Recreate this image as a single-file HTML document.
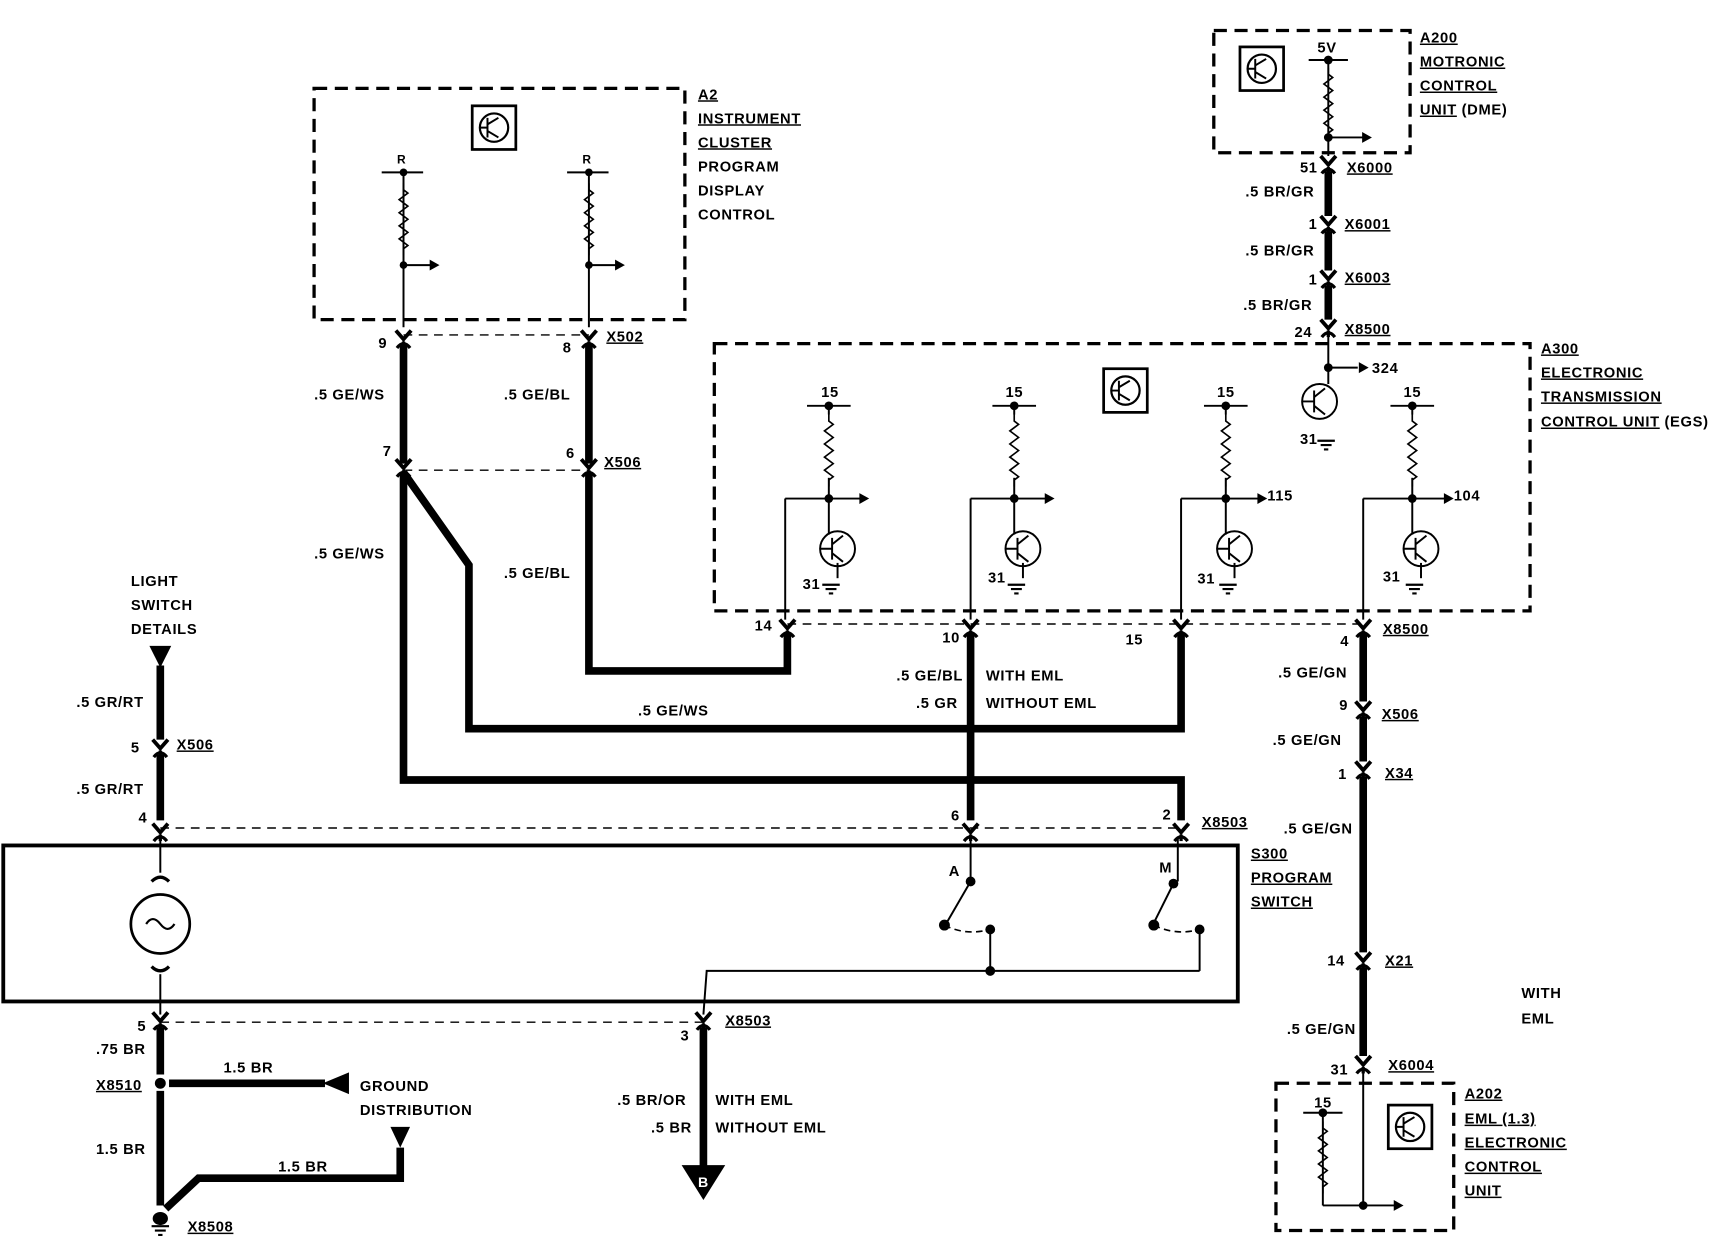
<!DOCTYPE html>
<html><head><meta charset="utf-8"><style>
html,body{margin:0;padding:0;background:#fff;}
svg{display:block;}
text{font-family:"Liberation Sans",sans-serif;font-weight:bold;font-size:13.5px;fill:#000;letter-spacing:0.6px;}
.u{text-decoration:underline;}
</style></head><body>
<svg width="1710" height="1248" viewBox="0 0 1568 1144" preserveAspectRatio="none" xmlns="http://www.w3.org/2000/svg">
<defs>
<g id="c"><path d="M-7,-7 L0,1 L7,-7" stroke="#000" stroke-width="3.5" fill="none"/><path d="M-6,9 Q0,1 6,9" stroke="#000" stroke-width="3" fill="none"/><line x1="0" y1="3" x2="0" y2="9" stroke="#000" stroke-width="3"/></g>
<path id="z" d="M0,0 l0,6 l4,3 l-8,6 l8,6 l-8,6 l8,6 l-8,6 l8,6 l-8,6 l8,6 l-4,3 l0,6" stroke="#000" stroke-width="1.5" fill="none"/>
<g id="icon"><rect x="0" y="0" width="40" height="40" fill="none" stroke="#000" stroke-width="2.5"/><circle cx="20" cy="20" r="13" fill="none" stroke="#000" stroke-width="2"/><path d="M14,11 V29 M14,17 L24,11 M14,23 L24,29 M7,20 H14" stroke="#000" stroke-width="1.8" fill="none"/></g>
<g id="gnd"><path d="M-8,0 H8 M-5,4 H5 M-2,8 H2" stroke="#000" stroke-width="2"/></g>
<g id="tr"><circle cx="0" cy="0" r="16" fill="none" stroke="#000" stroke-width="1.8"/><path d="M-5,-10 V10 M-5,-4 L5,-12 M-5,4 L5,12 M-16,0 H-5" stroke="#000" stroke-width="1.8" fill="none"/></g>
</defs>
<g fill="none" stroke="#000">
<!-- A2 box -->
<rect x="288" y="81" width="340" height="212" stroke-width="3" stroke-dasharray="12,7"/>
<!-- A300 -->
<rect x="655" y="315" width="748" height="245" stroke-width="3" stroke-dasharray="12,7"/>
<!-- A200 -->
<rect x="1113" y="28" width="180" height="112" stroke-width="3" stroke-dasharray="12,7"/>
<!-- A202 -->
<rect x="1170" y="993" width="163" height="135" stroke-width="3" stroke-dasharray="12,7"/>
<!-- S300 -->
<rect x="3" y="775" width="1132" height="143" stroke-width="3.5"/>
<!-- dashed connector lines -->
<g stroke-width="1.3" stroke-dasharray="8,6">
<line x1="370" y1="307" x2="540" y2="307"/><line x1="370" y1="431" x2="540" y2="431"/>
<line x1="722" y1="572" x2="1250" y2="572"/><line x1="147" y1="759" x2="1083" y2="759"/>
<line x1="147" y1="937" x2="645" y2="937"/>
</g>
<!-- thick wires -->
<g stroke-width="7" stroke-linejoin="miter">
<line x1="370" y1="315" x2="370" y2="425"/><line x1="540" y1="315" x2="540" y2="425"/>
<polyline points="370,433 430,518 430,668 1083,668 1083,580"/>
<polyline points="540,433 540,615 722,615 722,580"/>
<polyline points="370,433 370,715 1083,715 1083,752"/>
<line x1="890" y1="580" x2="890" y2="752"/>
<line x1="1218" y1="157" x2="1218" y2="198"/><line x1="1218" y1="212" x2="1218" y2="248"/><line x1="1218" y1="262" x2="1218" y2="293"/>
<line x1="1250" y1="580" x2="1250" y2="643"/><line x1="1250" y1="657" x2="1250" y2="698"/><line x1="1250" y1="712" x2="1250" y2="873"/><line x1="1250" y1="887" x2="1250" y2="968"/>
<line x1="147" y1="610" x2="147" y2="678"/><line x1="147" y1="692" x2="147" y2="752"/>
<line x1="147" y1="942" x2="147" y2="985"/><line x1="147" y1="1000" x2="147" y2="1105"/>
<line x1="155" y1="993" x2="298" y2="993"/>
<polyline points="152,1108 182,1080 367,1080 367,1052"/>
<line x1="645" y1="942" x2="645" y2="1070"/>
</g>
<!-- thin wires -->
<g stroke-width="1.8">
<line x1="370" y1="158" x2="370" y2="300"/><line x1="540" y1="158" x2="540" y2="300"/>
<line x1="350" y1="158" x2="388" y2="158"/><line x1="520" y1="158" x2="558" y2="158"/>
<line x1="370" y1="243" x2="398" y2="243"/><line x1="540" y1="243" x2="568" y2="243"/>
<line x1="1218" y1="55" x2="1218" y2="143"/><line x1="1200" y1="55" x2="1236" y2="55"/><line x1="1218" y1="126" x2="1252" y2="126"/>
<line x1="1218" y1="308" x2="1218" y2="352"/><line x1="1218" y1="337" x2="1245" y2="337"/>
<line x1="1250" y1="982" x2="1250" y2="1105"/><line x1="1213" y1="1020" x2="1213" y2="1105"/><line x1="1213" y1="1105" x2="1280" y2="1105"/>
<line x1="1195" y1="1020" x2="1231" y2="1020"/>
<line x1="147" y1="768" x2="147" y2="800"/><line x1="147" y1="893" x2="147" y2="930"/>
<line x1="890" y1="768" x2="890" y2="808"/><line x1="1080" y1="768" x2="1080" y2="808"/>
<line x1="890" y1="808" x2="868" y2="846"/><line x1="1076" y1="810" x2="1058" y2="846"/>
<line x1="908" y1="852" x2="908" y2="890"/><line x1="1100" y1="852" x2="1100" y2="890"/>
<polyline points="645,930 648,890 1100,890"/>
</g>
<g stroke-width="1.5" stroke-dasharray="6,4"><path d="M866,848 Q885,858 908,852"/><path d="M1058,848 Q1078,858 1100,852"/></g>
<!-- lamp -->
<circle cx="147" cy="847" r="27" stroke-width="2.5"/>
<path d="M134,847 Q140,838 147,847 Q154,856 160,847" stroke-width="2"/>
<path d="M139,808 Q147,800 155,808 M139,886 Q147,894 155,886" stroke-width="3"/>
</g>
<!-- A300 columns -->
<g stroke="#000" stroke-width="1.8" fill="none">
<g transform="translate(760,0)"><line x1="-20" y1="372" x2="20" y2="372"/><line x1="0" y1="372" x2="0" y2="380"/><line x1="0" y1="438" x2="0" y2="490"/><line x1="-40" y1="457" x2="30" y2="457"/><line x1="-40" y1="457" x2="-40" y2="568"/><line x1="8" y1="516" x2="8" y2="530"/></g>
<g transform="translate(930,0)"><line x1="-20" y1="372" x2="20" y2="372"/><line x1="0" y1="372" x2="0" y2="380"/><line x1="0" y1="438" x2="0" y2="490"/><line x1="-40" y1="457" x2="30" y2="457"/><line x1="-40" y1="457" x2="-40" y2="568"/><line x1="8" y1="516" x2="8" y2="530"/></g>
<g transform="translate(1124,0)"><line x1="-20" y1="372" x2="20" y2="372"/><line x1="0" y1="372" x2="0" y2="380"/><line x1="0" y1="438" x2="0" y2="490"/><line x1="-41" y1="457" x2="30" y2="457"/><line x1="-41" y1="457" x2="-41" y2="568"/><line x1="8" y1="516" x2="8" y2="530"/></g>
<g transform="translate(1295,0)"><line x1="-20" y1="372" x2="20" y2="372"/><line x1="0" y1="372" x2="0" y2="380"/><line x1="0" y1="438" x2="0" y2="490"/><line x1="-45" y1="457" x2="30" y2="457"/><line x1="-45" y1="457" x2="-45" y2="568"/><line x1="8" y1="516" x2="8" y2="530"/></g>
</g>
<use href="#z" x="760" y="380"/><use href="#z" x="930" y="380"/><use href="#z" x="1124" y="380"/><use href="#z" x="1295" y="380"/>
<use href="#z" x="370" y="168"/><use href="#z" x="540" y="168"/><use href="#z" x="1218" y="62"/><use href="#z" x="1213" y="1028"/>
<use href="#tr" x="768" y="503"/><use href="#tr" x="938" y="503"/><use href="#tr" x="1132" y="503"/><use href="#tr" x="1303" y="503"/><use href="#tr" x="1210" y="368"/>
<use href="#gnd" x="762" y="536"/><use href="#gnd" x="932" y="536"/><use href="#gnd" x="1126" y="536"/><use href="#gnd" x="1297" y="536"/><use href="#gnd" x="1216" y="404"/>
<use href="#icon" x="433" y="97"/><use href="#icon" x="1012" y="338"/><use href="#icon" x="1137" y="43"/><use href="#icon" x="1273" y="1013"/>
<!-- dots -->
<g fill="#000">
<circle cx="370" cy="158" r="3.5"/><circle cx="540" cy="158" r="3.5"/><circle cx="370" cy="243" r="3.5"/><circle cx="540" cy="243" r="3.5"/>
<circle cx="760" cy="372" r="4"/><circle cx="930" cy="372" r="4"/><circle cx="1124" cy="372" r="4"/><circle cx="1295" cy="372" r="4"/>
<circle cx="760" cy="457" r="4"/><circle cx="930" cy="457" r="4"/><circle cx="1124" cy="457" r="4"/><circle cx="1295" cy="457" r="4"/>
<circle cx="1218" cy="55" r="4"/><circle cx="1218" cy="126" r="4"/><circle cx="1218" cy="337" r="4"/>
<circle cx="1213" cy="1020" r="4"/><circle cx="1250" cy="1105" r="4"/>
<circle cx="890" cy="808" r="4.5"/><circle cx="866" cy="848" r="5"/><circle cx="908" cy="852" r="4.5"/><circle cx="908" cy="890" r="4.5"/>
<circle cx="1076" cy="810" r="4.5"/><circle cx="1058" cy="848" r="5"/><circle cx="1100" cy="852" r="4.5"/>
<circle cx="147" cy="993" r="5"/>
<!-- arrowheads -->
<path d="M403,243 l-9,-5 v10z"/><path d="M573,243 l-9,-5 v10z"/><path d="M797,457 l-9,-5 v10z"/><path d="M967,457 l-9,-5 v10z"/><path d="M1162,457 l-9,-5 v10z"/><path d="M1333,457 l-9,-5 v10z"/>
<path d="M1258,126 l-9,-5 v10z"/><path d="M1255,337 l-9,-5 v10z"/><path d="M1287,1105 l-9,-5 v10z"/>
<path d="M137,592 h20 l-10,20z"/>
<path d="M296,993 l24,-10 v20z"/>
<path d="M358,1033 h18 l-9,19z"/>
<path d="M625,1068 h40 l-20,32z"/>
</g>
<text x="640" y="1088" style="fill:#fff;font-size:13px">B</text>
<!-- ground X8508 -->
<g fill="#000"><ellipse cx="147" cy="1117" rx="7" ry="6"/></g>
<use href="#gnd" x="147" y="1124"/>
<!-- connectors -->
<use href="#c" x="370" y="310"/><use href="#c" x="540" y="310"/><use href="#c" x="370" y="428"/><use href="#c" x="540" y="428"/>
<use href="#c" x="722" y="575"/><use href="#c" x="890" y="575"/><use href="#c" x="1083" y="575"/><use href="#c" x="1250" y="575"/>
<use href="#c" x="1218" y="150"/><use href="#c" x="1218" y="205"/><use href="#c" x="1218" y="255"/><use href="#c" x="1218" y="300"/>
<use href="#c" x="1250" y="650"/><use href="#c" x="1250" y="705"/><use href="#c" x="1250" y="880"/><use href="#c" x="1250" y="975"/>
<use href="#c" x="147" y="685"/><use href="#c" x="147" y="762"/><use href="#c" x="890" y="762"/><use href="#c" x="1083" y="762"/>
<use href="#c" x="147" y="935"/><use href="#c" x="645" y="935"/>
<!-- texts -->
<text x="640" y="91" class="u">A2</text><text x="640" y="113" class="u">INSTRUMENT</text><text x="640" y="135" class="u">CLUSTER</text><text x="640" y="157">PROGRAM</text><text x="640" y="179">DISPLAY</text><text x="640" y="201">CONTROL</text>
<text x="364" y="150" style="font-size:11px">R</text><text x="534" y="150" style="font-size:11px">R</text>
<text x="347" y="319">9</text><text x="516" y="323">8</text><text x="556" y="313" class="u">X502</text>
<text x="288" y="366">.5  GE/WS</text><text x="462" y="366">.5  GE/BL</text>
<text x="351" y="418">7</text><text x="519" y="420">6</text><text x="554" y="428" class="u">X506</text>
<text x="288" y="512">.5  GE/WS</text><text x="462" y="530">.5  GE/BL</text><text x="585" y="656">.5 GE/WS</text>
<text x="692" y="578">14</text><text x="864" y="589">10</text><text x="1032" y="591">15</text><text x="1229" y="592">4</text><text x="1268" y="581" class="u">X8500</text>
<text x="822" y="624">.5 GE/BL</text><text x="904" y="624">WITH EML</text><text x="840" y="649">.5 GR</text><text x="904" y="649">WITHOUT EML</text>
<text x="753" y="364">15</text><text x="922" y="364">15</text><text x="1116" y="364">15</text><text x="1287" y="364">15</text>
<text x="1162" y="459">115</text><text x="1333" y="459">104</text><text x="1258" y="342">324</text>
<text x="736" y="540">31</text><text x="906" y="534">31</text><text x="1098" y="535">31</text><text x="1268" y="533">31</text><text x="1192" y="407">31</text>
<text x="1413" y="324" class="u">A300</text><text x="1413" y="346" class="u">ELECTRONIC</text><text x="1413" y="368" class="u">TRANSMISSION</text><text x="1413" y="391"><tspan class="u">CONTROL UNIT</tspan> (EGS)</text>
<text x="1208" y="48">5V</text>
<text x="1302" y="39" class="u">A200</text><text x="1302" y="61" class="u">MOTRONIC</text><text x="1302" y="83" class="u">CONTROL</text><text x="1302" y="105"><tspan class="u">UNIT</tspan> (DME)</text>
<text x="1192" y="158">51</text><text x="1235" y="158" class="u">X6000</text><text x="1142" y="180">.5  BR/GR</text>
<text x="1200" y="210">1</text><text x="1233" y="210" class="u">X6001</text><text x="1142" y="234">.5  BR/GR</text>
<text x="1200" y="261">1</text><text x="1233" y="259" class="u">X6003</text><text x="1140" y="284">.5  BR/GR</text>
<text x="1187" y="309">24</text><text x="1233" y="306" class="u">X8500</text>
<text x="1172" y="621">.5  GE/GN</text><text x="1228" y="651">9</text><text x="1267" y="659" class="u">X506</text>
<text x="1167" y="683">.5  GE/GN</text><text x="1227" y="714">1</text><text x="1270" y="713" class="u">X34</text>
<text x="1177" y="764">.5 GE/GN</text><text x="1217" y="885">14</text><text x="1270" y="885" class="u">X21</text>
<text x="1180" y="948">.5 GE/GN</text><text x="1220" y="985">31</text><text x="1273" y="981" class="u">X6004</text>
<text x="1395" y="915">WITH</text><text x="1395" y="938">EML</text>
<text x="1205" y="1015">15</text>
<text x="1343" y="1007" class="u">A202</text><text x="1343" y="1030" class="u">EML (1.3)</text><text x="1343" y="1052" class="u">ELECTRONIC</text><text x="1343" y="1074" class="u">CONTROL</text><text x="1343" y="1096" class="u">UNIT</text>
<text x="120" y="537">LIGHT</text><text x="120" y="559">SWITCH</text><text x="120" y="581">DETAILS</text>
<text x="70" y="648">.5  GR/RT</text><text x="120" y="690">5</text><text x="162" y="687" class="u">X506</text>
<text x="70" y="728">.5  GR/RT</text><text x="127" y="754">4</text>
<text x="1066" y="751">2</text><text x="872" y="752">6</text><text x="1102" y="758" class="u">X8503</text>
<text x="870" y="803">A</text><text x="1063" y="800">M</text>
<text x="1147" y="787" class="u">S300</text><text x="1147" y="809" class="u">PROGRAM</text><text x="1147" y="831" class="u">SWITCH</text>
<text x="126" y="945">5</text><text x="624" y="954">3</text><text x="665" y="940" class="u">X8503</text>
<text x="88" y="966">.75  BR</text><text x="88" y="999" class="u">X8510</text><text x="205" y="983">1.5  BR</text>
<text x="330" y="1000">GROUND</text><text x="330" y="1022">DISTRIBUTION</text>
<text x="88" y="1058">1.5  BR</text><text x="255" y="1074">1.5  BR</text><text x="172" y="1129" class="u">X8508</text>
<text x="566" y="1013">.5 BR/OR</text><text x="656" y="1013">WITH EML</text><text x="597" y="1038">.5 BR</text><text x="656" y="1038">WITHOUT EML</text>
</svg>
</body></html>
